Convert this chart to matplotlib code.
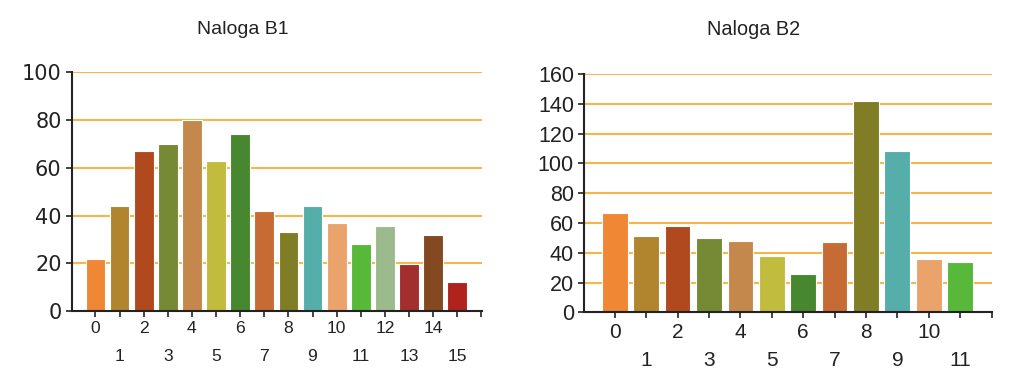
import matplotlib
matplotlib.use("Agg")
import matplotlib.pyplot as plt
import numpy as np

# ---- data ----
title_b1 = "Naloga B1"
title_b2 = "Naloga B2"
cats_b1 = list(range(16))
vals_b1 = [22, 44, 67, 70, 80, 63, 74, 42, 33, 44, 37, 28, 35.5, 19.6, 32, 12]
cats_b2 = list(range(12))
vals_b2 = [67, 51, 58, 50, 48, 38, 25.5, 47, 142, 108, 36, 34]
yticks_b1 = [0, 20, 40, 60, 80, 100]
yticks_b2 = [0, 20, 40, 60, 80, 100, 120, 140, 160]

palette = ["#F08735", "#B0852E", "#B0491E", "#768A36", "#C5884C", "#C2BC3E",
           "#46872F", "#C66B33", "#817D26", "#55AEAA", "#EBA36C", "#58B839",
           "#9BBB8C", "#A32E2E", "#844920", "#B0231D"]

GRID = "#F7B54A"
AX = "#222222"
TXT = "#222222"

fig = plt.figure(figsize=(10.30, 3.84), dpi=100)


def draw(ax, cats, vals, yticks, ylabfont, ylabsize, xlabfont, xlabsize, xpad2):
    n = len(cats)
    x = np.arange(n)
    ax.bar(x, vals, width=0.82, color=palette[:n], edgecolor="#ffffff",
           linewidth=0.8, zorder=3)
    ax.set_xlim(-0.97, n + 0.02)
    ax.set_ylim(yticks[0], yticks[-1])
    ax.set_yticks(yticks)
    ax.set_yticklabels([str(t) for t in yticks], fontsize=ylabsize,
                       family=ylabfont, color=TXT)
    for t in yticks[1:]:
        ax.axhline(t, color=GRID, lw=1.5, zorder=1)
    evens = [i for i in range(n + 1) if i % 2 == 0]
    odds = [i for i in range(n + 1) if i % 2 == 1]
    ax.set_xticks(evens)
    ax.set_xticklabels([str(cats[i]) if i < n else "" for i in evens],
                       fontsize=xlabsize, family=xlabfont, color=TXT)
    ax.set_xticks(odds, minor=True)
    ax.set_xticklabels([str(cats[i]) if i < n else "" for i in odds],
                       minor=True, fontsize=xlabsize, family=xlabfont, color=TXT)
    ax.tick_params(axis="x", which="both", length=4, width=1.2, color=AX,
                   direction="out")
    ax.tick_params(axis="x", which="major", pad=3.5)
    ax.tick_params(axis="x", which="minor", pad=xpad2)
    ax.tick_params(axis="y", length=4, width=1.2, color=AX, pad=3.5)
    for s in ["top", "right"]:
        ax.spines[s].set_visible(False)
    for s in ["left", "bottom"]:
        ax.spines[s].set_color(AX)
        ax.spines[s].set_linewidth(1.5)
        ax.spines[s].set_zorder(4)


ax1 = fig.add_axes([0.0699, 0.190, 0.398, 0.6216])
draw(ax1, cats_b1, vals_b1, yticks_b1, "DejaVu Sans", 15, "Liberation Sans", 12.6, 23.5)
ax2 = fig.add_axes([0.5673, 0.1867, 0.396, 0.6206])
draw(ax2, cats_b2, vals_b2, yticks_b2, "Liberation Sans", 15.5, "Liberation Sans", 15, 23.5)

fig.text(243 / 1030, 1 - 29.5 / 384, title_b1, ha="center", va="center",
         fontsize=14, family="Liberation Sans", color=TXT)
fig.text(754 / 1030, 1 - 29.5 / 384, title_b2, ha="center", va="center",
         fontsize=14.3, family="Liberation Sans", color=TXT)

fig.savefig("out.png", dpi=100, facecolor="white")
